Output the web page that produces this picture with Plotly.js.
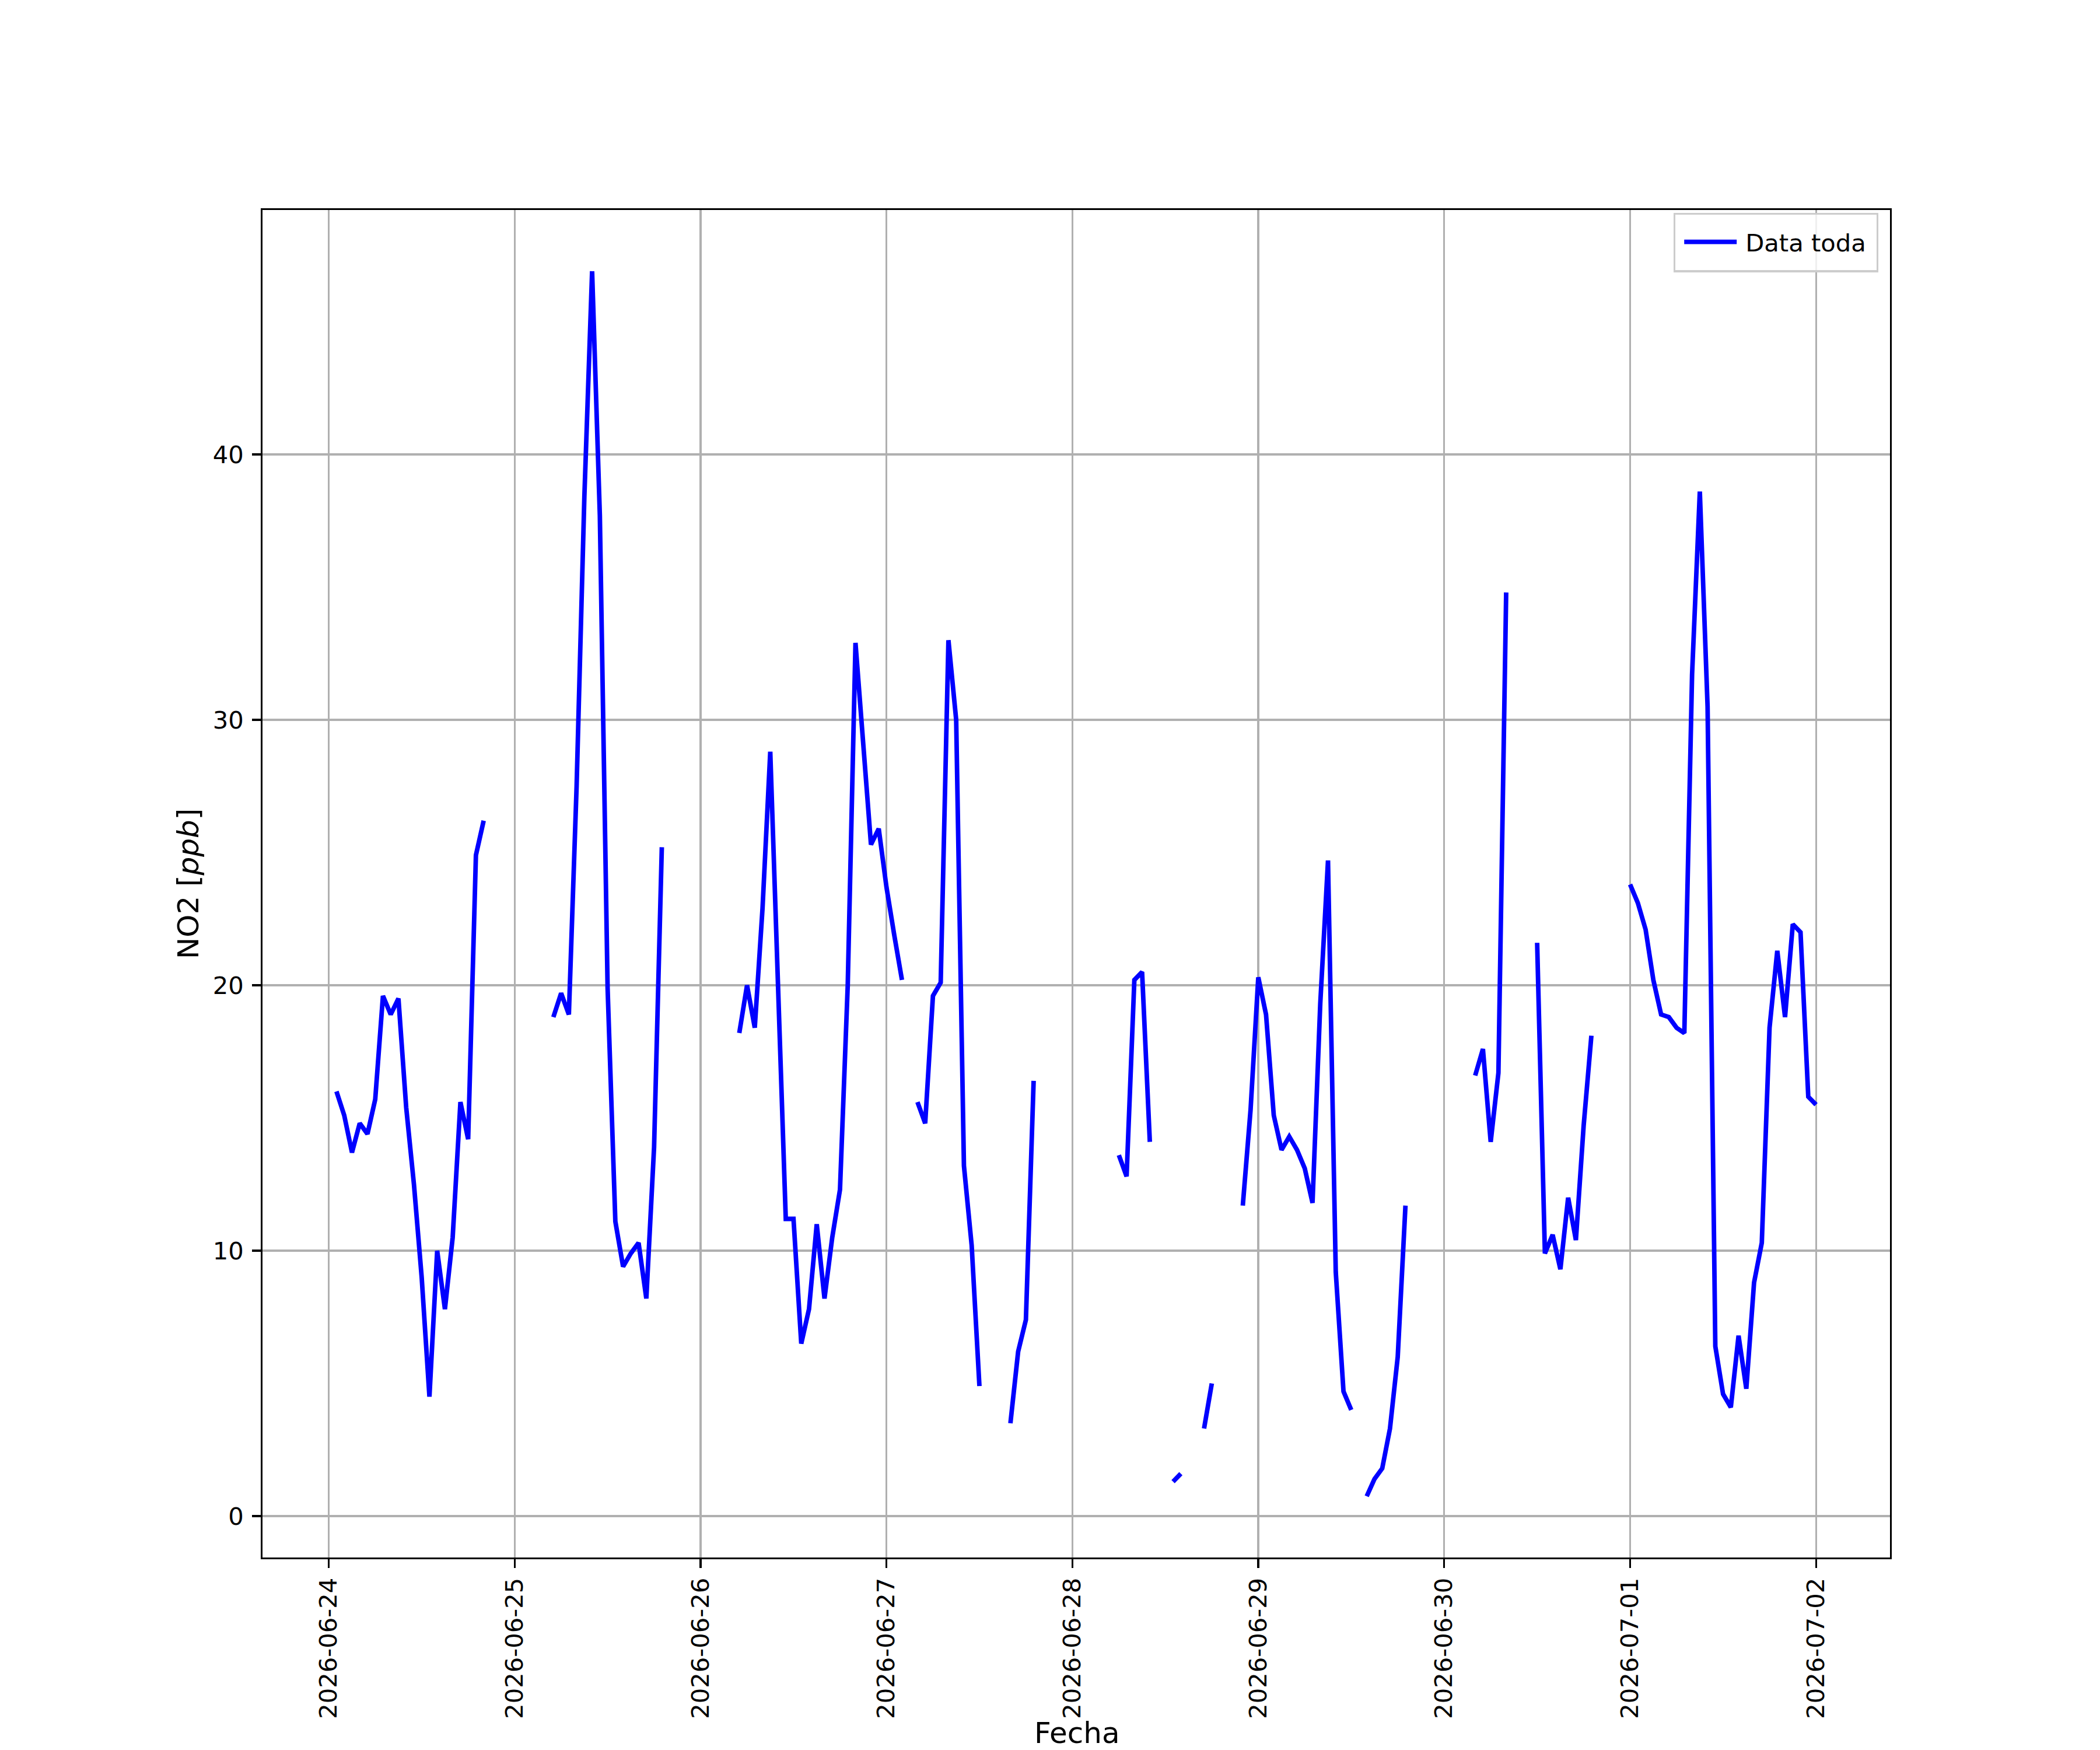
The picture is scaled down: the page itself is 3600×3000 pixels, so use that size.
<!DOCTYPE html>
<html>
<head>
<meta charset="utf-8">
<script src="https://cdn.plot.ly/plotly-3.0.1.min.js"></script>
<style>
html, body { margin: 0; padding: 0; background: #ffffff; width: 3600px; height: 3000px; overflow: hidden; }
#wrap { width: 1200px; height: 1000px; transform: scale(3); transform-origin: 0 0; }
#chart { width: 1200px; height: 1000px; }
</style>
</head>
<body>
<div id="wrap"><div id="chart"></div></div>
<script>
// ---- data (hourly NO2 readings, null = missing) ----
const startTime = '2026-06-24T01:00:00Z';
const stepHours = 1;
const seriesName = 'Data toda';
const no2 = [
  // 06-24 01:00 .. 20:00
  16.0, 15.1, 13.7, 14.8, 14.4, 15.7, 19.6, 18.9, 19.5, 15.4, 12.5, 9.0, 4.5, 10.0, 7.8, 10.5, 15.6, 14.2, 24.9, 26.2,
  null, null, null, null, null, null, null, null,
  // 06-25 05:00 .. 19:00
  18.8, 19.7, 18.9, 27.5, 38.4, 46.9, 37.7, 19.9, 11.1, 9.4, 9.9, 10.3, 8.2, 13.9, 25.2,
  null, null, null, null, null, null, null, null, null,
  // 06-26 05:00 .. 06-27 02:00
  18.2, 20.0, 18.4, 22.9, 28.8, 20.2, 11.2, 11.2, 6.5, 7.8, 11.0, 8.2, 10.5, 12.3, 20.0, 32.9, 29.1, 25.3, 25.9, 23.7, 21.9, 20.2,
  null,
  15.6, 14.8, 19.6, 20.1, 33.0, 30.0, 13.2, 10.2, 4.9,
  null, null, null,
  3.5, 6.2, 7.4, 16.4,
  null, null, null, null, null, null, null, null, null, null,
  13.6, 12.8, 20.2, 20.5, 14.1,
  null, null,
  1.3, 1.6,
  null, null,
  3.3, 5.0,
  null, null, null,
  11.7, 15.3, 20.3, 18.9, 15.1, 13.8, 14.3, 13.8, 13.1, 11.8, 19.3, 24.7, 9.2, 4.7, 4.0,
  null,
  0.75, 1.4, 1.8, 3.3, 6.0, 11.7,
  null, null, null, null, null, null, null, null,
  16.6, 17.6, 14.1, 16.7, 34.8,
  null, null, null,
  21.6, 9.9, 10.6, 9.3, 12.0, 10.4, 14.7, 18.1,
  null, null, null, null,
  23.8, 23.1, 22.1, 20.2, 18.9, 18.8, 18.4, 18.2, 31.7, 38.6, 30.5, 6.4, 4.6, 4.1, 6.8, 4.8, 8.8, 10.3, 18.4, 21.3, 18.8, 22.3, 22.0, 15.8, 15.5
];
const dayTicks = ['2026-06-24','2026-06-25','2026-06-26','2026-06-27','2026-06-28','2026-06-29','2026-06-30','2026-07-01','2026-07-02'];
const yTicks = [0, 10, 20, 30, 40];
const xTitle = 'Fecha';
const yTitle = 'NO2 [<i>ppb</i>]';

// ---- ranges with 5% margins (matplotlib style) ----
const stepMs = stepHours * 3600000;
const t0 = Date.parse(startTime);
const t1 = t0 + (no2.length - 1) * stepMs;
const xPad = 0.05 * (t1 - t0);
const valid = no2.filter(v => v !== null);
const yMin = Math.min.apply(null, valid), yMax = Math.max.apply(null, valid);
const yPad = 0.05 * (yMax - yMin);

const FONT = 'DejaVu Sans';
const FS = 13.9;
const FS_LABEL = 16.67;
const LW = 1.11;

const trace = {
  type: 'scatter', mode: 'lines', name: seriesName,
  x0: t0, dx: stepMs, y: no2,
  connectgaps: false,
  line: { color: '#0000ff', width: 2.6 },
  showlegend: true
};

const axisCommon = {
  showline: true, mirror: true, linecolor: '#000000', linewidth: LW,
  ticks: 'outside', ticklen: 4.86, tickwidth: LW, tickcolor: '#000000',
  showgrid: true, gridcolor: '#b0b0b0', gridwidth: LW,
  zeroline: false,
  tickfont: { family: FONT, size: FS, color: '#000000' },
  automargin: false
};

const layout = {
  width: 1200, height: 1000,
  paper_bgcolor: '#ffffff', plot_bgcolor: '#ffffff',
  margin: { l: 150, r: 120, t: 120, b: 110, pad: 0 },
  font: { family: FONT, size: FS, color: '#000000' },
  xaxis: Object.assign({}, axisCommon, {
    type: 'date',
    range: [t0 - xPad, t1 + xPad],
    tickmode: 'array', tickvals: dayTicks, ticktext: dayTicks,
    tickangle: -90,
    ticklabelstandoff: 0
  }),
  yaxis: Object.assign({}, axisCommon, {
    range: [yMin - yPad, yMax + yPad],
    tickmode: 'array', tickvals: yTicks, ticktext: yTicks.map(String),
    ticklabelstandoff: 2,
    title: { text: yTitle, font: { family: FONT, size: FS_LABEL, color: '#000000' }, standoff: 3 }
  }),
  annotations: [{
    text: xTitle, xref: 'paper', yref: 'paper', x: 0.5, y: -0.1304,
    xanchor: 'center', yanchor: 'middle', showarrow: false,
    font: { family: FONT, size: FS_LABEL, color: '#000000' }
  }],
  showlegend: true,
  legend: {
    x: 0.9928, xanchor: 'right', y: 0.998, yanchor: 'top',
    bgcolor: 'rgba(255,255,255,0.8)', bordercolor: '#cccccc', borderwidth: 1.1,
    font: { family: FONT, size: FS, color: '#000000' }
  }
};

Plotly.newPlot('chart', [trace], layout, { staticPlot: true, displayModeBar: false });
</script>
</body>
</html>
